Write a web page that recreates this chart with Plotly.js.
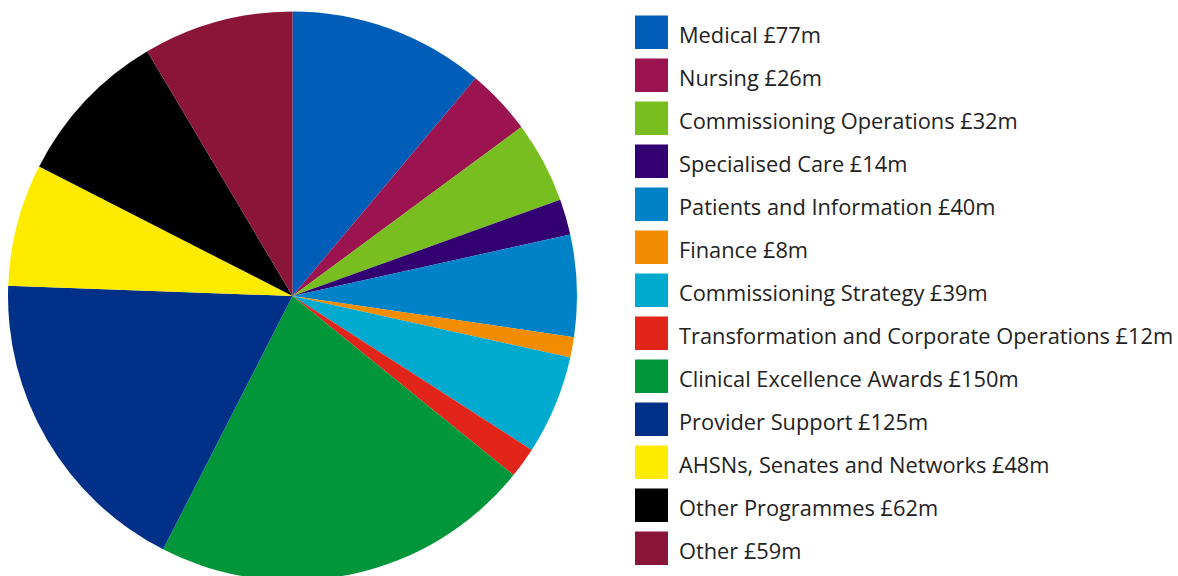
<!DOCTYPE html>
<html>
<head>
<meta charset="utf-8">
<script src="https://cdn.plot.ly/plotly-3.0.1.min.js"></script>
<style>
html, body { margin: 0; padding: 0; overflow: hidden; background: #fff; }
#chart { width: 1178px; height: 590px; }
</style>
</head>
<body>
<div id="chart"></div>
<script>
const labels = [
  "Medical", "Nursing", "Commissioning Operations", "Specialised Care",
  "Patients and Information", "Finance", "Commissioning Strategy",
  "Transformation and Corporate Operations", "Clinical Excellence Awards",
  "Provider Support", "AHSNs, Senates and Networks", "Other Programmes", "Other"
];
const values = [77, 26, 32, 14, 40, 8, 39, 12, 150, 125, 48, 62, 59];
const colors = [
  "#005EB8", "#9B1450", "#78BE20", "#330072", "#0082C8", "#F28C00",
  "#00A9CE", "#E1251B", "#009639", "#003087", "#FFEB00", "#000000", "#8A1538"
];

const W = 1178, H = 590, MT = 11, MB = 9;
const PH = H - MT - MB;
const px = x => x / W;
const py = y => 1 - (y - MT) / PH;

const shapes = [];
const annotations = [];
labels.forEach((lab, i) => {
  const top = 15.5 + 43 * i;
  shapes.push({
    type: "rect", xref: "paper", yref: "paper",
    x0: px(635), x1: px(668), y0: py(top), y1: py(top + 33.5),
    fillcolor: colors[i], line: { width: 0 }
  });
  annotations.push({
    xref: "paper", yref: "paper", x: px(677), y: py(top + 19),
    xanchor: "left", yanchor: "middle", showarrow: false,
    text: lab + " £" + values[i] + "m",
    font: { family: "Open Sans, sans-serif", size: 21.8, color: "#222222" }
  });
});

const trace = {
  type: "pie",
  labels: labels,
  values: values,
  sort: false,
  direction: "clockwise",
  rotation: 0,
  textinfo: "none",
  marker: { colors: colors, line: { width: 0 } },
  domain: { x: [px(8), px(577)], y: [0, 1] },
  showlegend: false
};

Plotly.newPlot("chart", [trace], {
  width: W, height: H,
  margin: { l: 0, r: 0, t: MT, b: MB },
  paper_bgcolor: "#ffffff",
  plot_bgcolor: "#ffffff",
  showlegend: false,
  shapes: shapes,
  annotations: annotations
}, { displayModeBar: false, staticPlot: true });
</script>
</body>
</html>
